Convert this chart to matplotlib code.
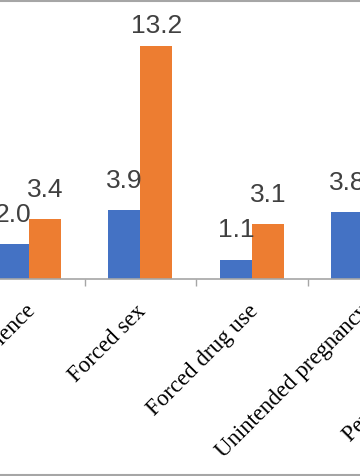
import numpy as np
import matplotlib
matplotlib.use("Agg")
import matplotlib.pyplot as plt
import matplotlib.transforms as mtransforms
from matplotlib.lines import Line2D

# chart data (only part of the chart is visible in the reference)
categories = ["Physical violence", "Forced sex", "Forced drug use",
              "Unintended pregnancy", "Perinatal depression"]
series_blue = [2.0, 3.9, 1.1, 3.8, 2.6]
series_orange = [3.4, 13.2, 3.1, 5.2, 4.1]

BLUE = "#4472C4"
ORANGE = "#ED7D31"
AXIS_GREY = "#a6a6a6"

fig = plt.figure(figsize=(3.6, 4.76), dpi=100)
# the axes runs past the right edge of the figure: the reference is a crop
ax = fig.add_axes([0, 0.414, 1.505, 0.586])

x = np.arange(len(categories))
w = 0.287
ax.bar(x - w / 2, series_blue, width=w, color=BLUE)
ax.bar(x + w / 2, series_orange, width=w, color=ORANGE)

# value labels above bars, kept inside the chart area
ymax = 15.8
gap = 1.25
cap = ymax - 1.86
for xs, vals in ((x - w / 2, series_blue), (x + w / 2, series_orange)):
    for xi, v in zip(xs, vals):
        ax.text(xi, min(v + gap, cap), f"{v:.1f}", ha="center", va="baseline",
                fontsize=19, family="Liberation Sans", color="#404040")

for side in ("top", "left", "right"):
    ax.spines[side].set_visible(False)
ax.spines["bottom"].set_color(AXIS_GREY)
ax.spines["bottom"].set_linewidth(1.2)
ax.set_yticks([])

ax.set_xticks(x)
ax.set_xticklabels(categories, rotation=45, ha="right", va="center",
                   rotation_mode="anchor", family="Liberation Serif",
                   fontsize=16.5)
ax.tick_params(axis="x", which="major", length=0, pad=21)
# nudge the rotated labels a little to the right
nudge = mtransforms.ScaledTranslation(2 / 72, 0, fig.dpi_scale_trans)
for lab in ax.get_xticklabels():
    lab.set_transform(lab.get_transform() + nudge)
ax.set_xticks(x + 0.5, minor=True)
ax.tick_params(axis="x", which="minor", length=5, color=AXIS_GREY, width=1)

# limits last: set_xticks would widen them otherwise
ax.set_xlim(-0.26, 4.6)
ax.set_ylim(0, ymax)

# chart area border (top and bottom edges visible)
for yf in (1 - 1 / 476, 1.5 / 476):
    fig.add_artist(Line2D([0, 1], [yf, yf], transform=fig.transFigure,
                          color=AXIS_GREY, linewidth=1.5))

fig.savefig("out.png", dpi=100)
